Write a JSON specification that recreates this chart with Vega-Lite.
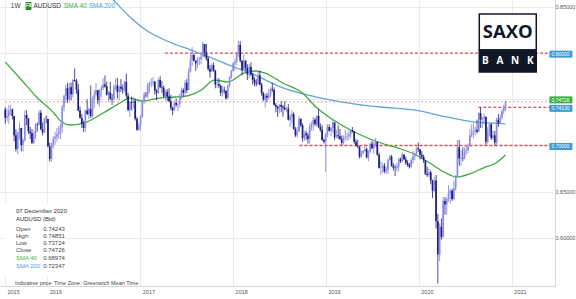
{
"$schema":"https://vega.github.io/schema/vega-lite/v6.json",
"width":555,"height":286,
"autosize":{"type":"none"},
"padding":{"left":0,"top":0,"right":21,"bottom":13},
"background":"white",
"config":{"view":{"stroke":null},"font":"Liberation Sans"},
"data":{"values":[{}]},
"datasets":{
"candles":[
{"d":"2015-07-20","o":0.7390,"h":0.7415,"l":0.7235,"c":0.7300},
{"d":"2015-07-27","o":0.7300,"h":0.7400,"l":0.7260,"c":0.7320},
{"d":"2015-08-03","o":0.7320,"h":0.7440,"l":0.7235,"c":0.7380},
{"d":"2015-08-10","o":0.7380,"h":0.7440,"l":0.7325,"c":0.7390},
{"d":"2015-08-17","o":0.7390,"h":0.7400,"l":0.7283,"c":0.7320},
{"d":"2015-08-24","o":0.7320,"h":0.7320,"l":0.7044,"c":0.7110},
{"d":"2015-08-31","o":0.7110,"h":0.7175,"l":0.6935,"c":0.6962},
{"d":"2015-09-07","o":0.6962,"h":0.7150,"l":0.6907,"c":0.7140},
{"d":"2015-09-14","o":0.7140,"h":0.7250,"l":0.7065,"c":0.7190},
{"d":"2015-09-21","o":0.7190,"h":0.7190,"l":0.6937,"c":0.7005},
{"d":"2015-09-28","o":0.7005,"h":0.7080,"l":0.6935,"c":0.7060},
{"d":"2015-10-05","o":0.7060,"h":0.7382,"l":0.7040,"c":0.7330},
{"d":"2015-10-12","o":0.7330,"h":0.7382,"l":0.7220,"c":0.7290},
{"d":"2015-10-19","o":0.7290,"h":0.7300,"l":0.7120,"c":0.7150},
{"d":"2015-10-26","o":0.7150,"h":0.7200,"l":0.7070,"c":0.7135},
{"d":"2015-11-02","o":0.7135,"h":0.7180,"l":0.7015,"c":0.7030},
{"d":"2015-11-09","o":0.7030,"h":0.7160,"l":0.7016,"c":0.7120},
{"d":"2015-11-16","o":0.7120,"h":0.7240,"l":0.7070,"c":0.7230},
{"d":"2015-11-23","o":0.7230,"h":0.7250,"l":0.7150,"c":0.7225},
{"d":"2015-11-30","o":0.7225,"h":0.7385,"l":0.7215,"c":0.7355},
{"d":"2015-12-07","o":0.7355,"h":0.7385,"l":0.7165,"c":0.7175},
{"d":"2015-12-14","o":0.7175,"h":0.7250,"l":0.7110,"c":0.7140},
{"d":"2015-12-21","o":0.7140,"h":0.7300,"l":0.7140,"c":0.7290},
{"d":"2015-12-28","o":0.7290,"h":0.7325,"l":0.7240,"c":0.7287},
{"d":"2016-01-04","o":0.7287,"h":0.7290,"l":0.6985,"c":0.6990},
{"d":"2016-01-11","o":0.6990,"h":0.7030,"l":0.6827,"c":0.6855},
{"d":"2016-01-18","o":0.6855,"h":0.7030,"l":0.6827,"c":0.7000},
{"d":"2016-01-25","o":0.7000,"h":0.7100,"l":0.6970,"c":0.7075},
{"d":"2016-02-01","o":0.7075,"h":0.7150,"l":0.7010,"c":0.7095},
{"d":"2016-02-08","o":0.7095,"h":0.7190,"l":0.7040,"c":0.7125},
{"d":"2016-02-15","o":0.7125,"h":0.7215,"l":0.7070,"c":0.7150},
{"d":"2016-02-22","o":0.7150,"h":0.7240,"l":0.7070,"c":0.7195},
{"d":"2016-02-29","o":0.7195,"h":0.7440,"l":0.7130,"c":0.7420},
{"d":"2016-03-07","o":0.7420,"h":0.7550,"l":0.7370,"c":0.7540},
{"d":"2016-03-14","o":0.7540,"h":0.7660,"l":0.7475,"c":0.7620},
{"d":"2016-03-21","o":0.7620,"h":0.7680,"l":0.7460,"c":0.7500},
{"d":"2016-03-28","o":0.7500,"h":0.7680,"l":0.7480,"c":0.7630},
{"d":"2016-04-04","o":0.7630,"h":0.7680,"l":0.7490,"c":0.7555},
{"d":"2016-04-11","o":0.7555,"h":0.7720,"l":0.7520,"c":0.7710},
{"d":"2016-04-18","o":0.7710,"h":0.7835,"l":0.7690,"c":0.7700},
{"d":"2016-04-25","o":0.7700,"h":0.7720,"l":0.7560,"c":0.7605},
{"d":"2016-05-02","o":0.7605,"h":0.7670,"l":0.7370,"c":0.7380},
{"d":"2016-05-09","o":0.7380,"h":0.7420,"l":0.7290,"c":0.7300},
{"d":"2016-05-16","o":0.7300,"h":0.7340,"l":0.7190,"c":0.7240},
{"d":"2016-05-23","o":0.7240,"h":0.7270,"l":0.7145,"c":0.7190},
{"d":"2016-05-30","o":0.7190,"h":0.7390,"l":0.7150,"c":0.7380},
{"d":"2016-06-06","o":0.7380,"h":0.7500,"l":0.7330,"c":0.7340},
{"d":"2016-06-13","o":0.7340,"h":0.7410,"l":0.7285,"c":0.7395},
{"d":"2016-06-20","o":0.7395,"h":0.7650,"l":0.7300,"c":0.7320},
{"d":"2016-06-27","o":0.7320,"h":0.7530,"l":0.7300,"c":0.7500},
{"d":"2016-07-04","o":0.7500,"h":0.7600,"l":0.7400,"c":0.7550},
{"d":"2016-07-11","o":0.7550,"h":0.7675,"l":0.7530,"c":0.7600},
{"d":"2016-07-18","o":0.7600,"h":0.7600,"l":0.7445,"c":0.7490},
{"d":"2016-07-25","o":0.7490,"h":0.7610,"l":0.7420,"c":0.7600},
{"d":"2016-08-01","o":0.7600,"h":0.7650,"l":0.7525,"c":0.7620},
{"d":"2016-08-08","o":0.7620,"h":0.7730,"l":0.7600,"c":0.7660},
{"d":"2016-08-15","o":0.7660,"h":0.7758,"l":0.7625,"c":0.7640},
{"d":"2016-08-22","o":0.7640,"h":0.7690,"l":0.7540,"c":0.7550},
{"d":"2016-08-29","o":0.7550,"h":0.7590,"l":0.7470,"c":0.7575},
{"d":"2016-09-05","o":0.7575,"h":0.7690,"l":0.7490,"c":0.7505},
{"d":"2016-09-12","o":0.7505,"h":0.7560,"l":0.7440,"c":0.7500},
{"d":"2016-09-19","o":0.7500,"h":0.7660,"l":0.7490,"c":0.7635},
{"d":"2016-09-26","o":0.7635,"h":0.7730,"l":0.7600,"c":0.7650},
{"d":"2016-10-03","o":0.7650,"h":0.7730,"l":0.7510,"c":0.7580},
{"d":"2016-10-10","o":0.7580,"h":0.7650,"l":0.7490,"c":0.7635},
{"d":"2016-10-17","o":0.7635,"h":0.7720,"l":0.7580,"c":0.7615},
{"d":"2016-10-24","o":0.7615,"h":0.7660,"l":0.7560,"c":0.7605},
{"d":"2016-10-31","o":0.7605,"h":0.7700,"l":0.7580,"c":0.7690},
{"d":"2016-11-07","o":0.7690,"h":0.7780,"l":0.7510,"c":0.7540},
{"d":"2016-11-14","o":0.7540,"h":0.7570,"l":0.7370,"c":0.7385},
{"d":"2016-11-21","o":0.7385,"h":0.7480,"l":0.7310,"c":0.7470},
{"d":"2016-11-28","o":0.7470,"h":0.7530,"l":0.7380,"c":0.7460},
{"d":"2016-12-05","o":0.7460,"h":0.7525,"l":0.7400,"c":0.7485},
{"d":"2016-12-12","o":0.7485,"h":0.7510,"l":0.7270,"c":0.7290},
{"d":"2016-12-19","o":0.7290,"h":0.7310,"l":0.7160,"c":0.7170},
{"d":"2016-12-26","o":0.7170,"h":0.7250,"l":0.7160,"c":0.7215},
{"d":"2017-01-02","o":0.7215,"h":0.7330,"l":0.7160,"c":0.7310},
{"d":"2017-01-09","o":0.7310,"h":0.7490,"l":0.7300,"c":0.7480},
{"d":"2017-01-16","o":0.7480,"h":0.7580,"l":0.7450,"c":0.7550},
{"d":"2017-01-23","o":0.7550,"h":0.7580,"l":0.7520,"c":0.7545},
{"d":"2017-01-30","o":0.7545,"h":0.7680,"l":0.7510,"c":0.7650},
{"d":"2017-02-06","o":0.7650,"h":0.7690,"l":0.7570,"c":0.7675},
{"d":"2017-02-13","o":0.7675,"h":0.7730,"l":0.7630,"c":0.7680},
{"d":"2017-02-20","o":0.7680,"h":0.7740,"l":0.7640,"c":0.7690},
{"d":"2017-02-27","o":0.7690,"h":0.7700,"l":0.7550,"c":0.7595},
{"d":"2017-03-06","o":0.7595,"h":0.7610,"l":0.7490,"c":0.7570},
{"d":"2017-03-13","o":0.7570,"h":0.7730,"l":0.7560,"c":0.7710},
{"d":"2017-03-20","o":0.7710,"h":0.7750,"l":0.7620,"c":0.7630},
{"d":"2017-03-27","o":0.7630,"h":0.7700,"l":0.7570,"c":0.7625},
{"d":"2017-04-03","o":0.7625,"h":0.7650,"l":0.7520,"c":0.7530},
{"d":"2017-04-10","o":0.7530,"h":0.7600,"l":0.7490,"c":0.7580},
{"d":"2017-04-17","o":0.7580,"h":0.7610,"l":0.7480,"c":0.7530},
{"d":"2017-04-24","o":0.7530,"h":0.7620,"l":0.7470,"c":0.7480},
{"d":"2017-05-01","o":0.7480,"h":0.7550,"l":0.7380,"c":0.7410},
{"d":"2017-05-08","o":0.7410,"h":0.7420,"l":0.7328,"c":0.7380},
{"d":"2017-05-15","o":0.7380,"h":0.7480,"l":0.7380,"c":0.7460},
{"d":"2017-05-22","o":0.7460,"h":0.7510,"l":0.7420,"c":0.7440},
{"d":"2017-05-29","o":0.7440,"h":0.7460,"l":0.7370,"c":0.7450},
{"d":"2017-06-05","o":0.7450,"h":0.7560,"l":0.7410,"c":0.7530},
{"d":"2017-06-12","o":0.7530,"h":0.7630,"l":0.7500,"c":0.7600},
{"d":"2017-06-19","o":0.7600,"h":0.7620,"l":0.7530,"c":0.7570},
{"d":"2017-06-26","o":0.7570,"h":0.7710,"l":0.7540,"c":0.7680},
{"d":"2017-07-03","o":0.7680,"h":0.7720,"l":0.7570,"c":0.7600},
{"d":"2017-07-10","o":0.7600,"h":0.7840,"l":0.7600,"c":0.7800},
{"d":"2017-07-17","o":0.7800,"h":0.7990,"l":0.7790,"c":0.7920},
{"d":"2017-07-24","o":0.7920,"h":0.8065,"l":0.7860,"c":0.7980},
{"d":"2017-07-31","o":0.7980,"h":0.8000,"l":0.7910,"c":0.7920},
{"d":"2017-08-07","o":0.7920,"h":0.7920,"l":0.7810,"c":0.7890},
{"d":"2017-08-14","o":0.7890,"h":0.7960,"l":0.7840,"c":0.7930},
{"d":"2017-08-21","o":0.7930,"h":0.7960,"l":0.7870,"c":0.7935},
{"d":"2017-08-28","o":0.7935,"h":0.7990,"l":0.7880,"c":0.7960},
{"d":"2017-09-04","o":0.7960,"h":0.8125,"l":0.7960,"c":0.8100},
{"d":"2017-09-11","o":0.8100,"h":0.8100,"l":0.7960,"c":0.8000},
{"d":"2017-09-18","o":0.8000,"h":0.8100,"l":0.7920,"c":0.7940},
{"d":"2017-09-25","o":0.7940,"h":0.7960,"l":0.7810,"c":0.7830},
{"d":"2017-10-02","o":0.7830,"h":0.7870,"l":0.7735,"c":0.7800},
{"d":"2017-10-09","o":0.7800,"h":0.7890,"l":0.7800,"c":0.7870},
{"d":"2017-10-16","o":0.7870,"h":0.7900,"l":0.7800,"c":0.7810},
{"d":"2017-10-23","o":0.7810,"h":0.7820,"l":0.7620,"c":0.7660},
{"d":"2017-10-30","o":0.7660,"h":0.7730,"l":0.7625,"c":0.7665},
{"d":"2017-11-06","o":0.7665,"h":0.7730,"l":0.7625,"c":0.7650},
{"d":"2017-11-13","o":0.7650,"h":0.7660,"l":0.7535,"c":0.7570},
{"d":"2017-11-20","o":0.7570,"h":0.7640,"l":0.7530,"c":0.7600},
{"d":"2017-11-27","o":0.7600,"h":0.7640,"l":0.7560,"c":0.7590},
{"d":"2017-12-04","o":0.7590,"h":0.7600,"l":0.7500,"c":0.7510},
{"d":"2017-12-11","o":0.7510,"h":0.7660,"l":0.7510,"c":0.7650},
{"d":"2017-12-18","o":0.7650,"h":0.7750,"l":0.7630,"c":0.7740},
{"d":"2017-12-25","o":0.7740,"h":0.7820,"l":0.7720,"c":0.7810},
{"d":"2018-01-01","o":0.7810,"h":0.7900,"l":0.7800,"c":0.7890},
{"d":"2018-01-08","o":0.7890,"h":0.7940,"l":0.7810,"c":0.7910},
{"d":"2018-01-15","o":0.7910,"h":0.8010,"l":0.7870,"c":0.7990},
{"d":"2018-01-22","o":0.7990,"h":0.8136,"l":0.7960,"c":0.8090},
{"d":"2018-01-29","o":0.8090,"h":0.8130,"l":0.7900,"c":0.7920},
{"d":"2018-02-05","o":0.7920,"h":0.7920,"l":0.7760,"c":0.7820},
{"d":"2018-02-12","o":0.7820,"h":0.7990,"l":0.7810,"c":0.7920},
{"d":"2018-02-19","o":0.7920,"h":0.7920,"l":0.7810,"c":0.7840},
{"d":"2018-02-26","o":0.7840,"h":0.7880,"l":0.7710,"c":0.7770},
{"d":"2018-03-05","o":0.7770,"h":0.7880,"l":0.7730,"c":0.7850},
{"d":"2018-03-12","o":0.7850,"h":0.7900,"l":0.7750,"c":0.7770},
{"d":"2018-03-19","o":0.7770,"h":0.7790,"l":0.7660,"c":0.7710},
{"d":"2018-03-26","o":0.7710,"h":0.7740,"l":0.7640,"c":0.7680},
{"d":"2018-04-02","o":0.7680,"h":0.7720,"l":0.7640,"c":0.7670},
{"d":"2018-04-09","o":0.7670,"h":0.7810,"l":0.7650,"c":0.7760},
{"d":"2018-04-16","o":0.7760,"h":0.7810,"l":0.7650,"c":0.7660},
{"d":"2018-04-23","o":0.7660,"h":0.7680,"l":0.7540,"c":0.7570},
{"d":"2018-04-30","o":0.7570,"h":0.7580,"l":0.7480,"c":0.7500},
{"d":"2018-05-07","o":0.7500,"h":0.7560,"l":0.7412,"c":0.7540},
{"d":"2018-05-14","o":0.7540,"h":0.7570,"l":0.7470,"c":0.7520},
{"d":"2018-05-21","o":0.7520,"h":0.7610,"l":0.7500,"c":0.7550},
{"d":"2018-05-28","o":0.7550,"h":0.7630,"l":0.7520,"c":0.7610},
{"d":"2018-06-04","o":0.7610,"h":0.7680,"l":0.7580,"c":0.7600},
{"d":"2018-06-11","o":0.7600,"h":0.7630,"l":0.7430,"c":0.7440},
{"d":"2018-06-18","o":0.7440,"h":0.7460,"l":0.7360,"c":0.7420},
{"d":"2018-06-25","o":0.7420,"h":0.7430,"l":0.7310,"c":0.7400},
{"d":"2018-07-02","o":0.7400,"h":0.7450,"l":0.7350,"c":0.7440},
{"d":"2018-07-09","o":0.7440,"h":0.7480,"l":0.7360,"c":0.7420},
{"d":"2018-07-16","o":0.7420,"h":0.7440,"l":0.7310,"c":0.7410},
{"d":"2018-07-23","o":0.7410,"h":0.7480,"l":0.7380,"c":0.7390},
{"d":"2018-07-30","o":0.7390,"h":0.7420,"l":0.7360,"c":0.7400},
{"d":"2018-08-06","o":0.7400,"h":0.7450,"l":0.7270,"c":0.7280},
{"d":"2018-08-13","o":0.7280,"h":0.7330,"l":0.7200,"c":0.7310},
{"d":"2018-08-20","o":0.7310,"h":0.7380,"l":0.7240,"c":0.7340},
{"d":"2018-08-27","o":0.7340,"h":0.7360,"l":0.7170,"c":0.7180},
{"d":"2018-09-03","o":0.7180,"h":0.7200,"l":0.7090,"c":0.7110},
{"d":"2018-09-10","o":0.7110,"h":0.7200,"l":0.7085,"c":0.7150},
{"d":"2018-09-17","o":0.7150,"h":0.7315,"l":0.7150,"c":0.7290},
{"d":"2018-09-24","o":0.7290,"h":0.7290,"l":0.7200,"c":0.7220},
{"d":"2018-10-01","o":0.7220,"h":0.7240,"l":0.7040,"c":0.7080},
{"d":"2018-10-08","o":0.7080,"h":0.7160,"l":0.7050,"c":0.7130},
{"d":"2018-10-15","o":0.7130,"h":0.7160,"l":0.7060,"c":0.7110},
{"d":"2018-10-22","o":0.7110,"h":0.7140,"l":0.7020,"c":0.7070},
{"d":"2018-10-29","o":0.7070,"h":0.7240,"l":0.7020,"c":0.7200},
{"d":"2018-11-05","o":0.7200,"h":0.7260,"l":0.7160,"c":0.7230},
{"d":"2018-11-12","o":0.7230,"h":0.7310,"l":0.7160,"c":0.7280},
{"d":"2018-11-19","o":0.7280,"h":0.7300,"l":0.7210,"c":0.7230},
{"d":"2018-11-26","o":0.7230,"h":0.7330,"l":0.7210,"c":0.7320},
{"d":"2018-12-03","o":0.7320,"h":0.7390,"l":0.7190,"c":0.7200},
{"d":"2018-12-10","o":0.7200,"h":0.7240,"l":0.7150,"c":0.7170},
{"d":"2018-12-17","o":0.7170,"h":0.7220,"l":0.7050,"c":0.7060},
{"d":"2018-12-24","o":0.7060,"h":0.7080,"l":0.7020,"c":0.7040},
{"d":"2018-12-31","o":0.7040,"h":0.7140,"l":0.6715,"c":0.7120},
{"d":"2019-01-07","o":0.7120,"h":0.7230,"l":0.7090,"c":0.7200},
{"d":"2019-01-14","o":0.7200,"h":0.7230,"l":0.7150,"c":0.7160},
{"d":"2019-01-21","o":0.7160,"h":0.7200,"l":0.7100,"c":0.7190},
{"d":"2019-01-28","o":0.7190,"h":0.7290,"l":0.7140,"c":0.7250},
{"d":"2019-02-04","o":0.7250,"h":0.7250,"l":0.7060,"c":0.7090},
{"d":"2019-02-11","o":0.7090,"h":0.7170,"l":0.7080,"c":0.7110},
{"d":"2019-02-18","o":0.7110,"h":0.7220,"l":0.7070,"c":0.7100},
{"d":"2019-02-25","o":0.7100,"h":0.7180,"l":0.7060,"c":0.7070},
{"d":"2019-03-04","o":0.7070,"h":0.7110,"l":0.7000,"c":0.7030},
{"d":"2019-03-11","o":0.7030,"h":0.7110,"l":0.7010,"c":0.7090},
{"d":"2019-03-18","o":0.7090,"h":0.7170,"l":0.7060,"c":0.7095},
{"d":"2019-03-25","o":0.7095,"h":0.7140,"l":0.7050,"c":0.7100},
{"d":"2019-04-01","o":0.7100,"h":0.7160,"l":0.7060,"c":0.7120},
{"d":"2019-04-08","o":0.7120,"h":0.7170,"l":0.7080,"c":0.7165},
{"d":"2019-04-15","o":0.7165,"h":0.7200,"l":0.7140,"c":0.7150},
{"d":"2019-04-22","o":0.7150,"h":0.7160,"l":0.7020,"c":0.7040},
{"d":"2019-04-29","o":0.7040,"h":0.7070,"l":0.6990,"c":0.7000},
{"d":"2019-05-06","o":0.7000,"h":0.7060,"l":0.6970,"c":0.6990},
{"d":"2019-05-13","o":0.6990,"h":0.6990,"l":0.6860,"c":0.6880},
{"d":"2019-05-20","o":0.6880,"h":0.6950,"l":0.6865,"c":0.6920},
{"d":"2019-05-27","o":0.6920,"h":0.6950,"l":0.6900,"c":0.6940},
{"d":"2019-06-03","o":0.6940,"h":0.7020,"l":0.6930,"c":0.6960},
{"d":"2019-06-10","o":0.6960,"h":0.6980,"l":0.6860,"c":0.6870},
{"d":"2019-06-17","o":0.6870,"h":0.6950,"l":0.6830,"c":0.6930},
{"d":"2019-06-24","o":0.6930,"h":0.7030,"l":0.6920,"c":0.7020},
{"d":"2019-07-01","o":0.7020,"h":0.7050,"l":0.6960,"c":0.6970},
{"d":"2019-07-08","o":0.6970,"h":0.7040,"l":0.6910,"c":0.7020},
{"d":"2019-07-15","o":0.7020,"h":0.7080,"l":0.6990,"c":0.7040},
{"d":"2019-07-22","o":0.7040,"h":0.7040,"l":0.6890,"c":0.6900},
{"d":"2019-07-29","o":0.6900,"h":0.6920,"l":0.6750,"c":0.6760},
{"d":"2019-08-05","o":0.6760,"h":0.6830,"l":0.6680,"c":0.6765},
{"d":"2019-08-12","o":0.6765,"h":0.6810,"l":0.6700,"c":0.6780},
{"d":"2019-08-19","o":0.6780,"h":0.6810,"l":0.6700,"c":0.6720},
{"d":"2019-08-26","o":0.6720,"h":0.6770,"l":0.6690,"c":0.6740},
{"d":"2019-09-02","o":0.6740,"h":0.6860,"l":0.6690,"c":0.6840},
{"d":"2019-09-09","o":0.6840,"h":0.6900,"l":0.6840,"c":0.6880},
{"d":"2019-09-16","o":0.6880,"h":0.6900,"l":0.6770,"c":0.6780},
{"d":"2019-09-23","o":0.6780,"h":0.6810,"l":0.6730,"c":0.6760},
{"d":"2019-09-30","o":0.6760,"h":0.6790,"l":0.6670,"c":0.6755},
{"d":"2019-10-07","o":0.6755,"h":0.6810,"l":0.6720,"c":0.6770},
{"d":"2019-10-14","o":0.6770,"h":0.6870,"l":0.6720,"c":0.6850},
{"d":"2019-10-21","o":0.6850,"h":0.6870,"l":0.6810,"c":0.6830},
{"d":"2019-10-28","o":0.6830,"h":0.6930,"l":0.6820,"c":0.6900},
{"d":"2019-11-04","o":0.6900,"h":0.6910,"l":0.6840,"c":0.6850},
{"d":"2019-11-11","o":0.6850,"h":0.6880,"l":0.6790,"c":0.6810},
{"d":"2019-11-18","o":0.6810,"h":0.6840,"l":0.6770,"c":0.6790},
{"d":"2019-11-25","o":0.6790,"h":0.6810,"l":0.6750,"c":0.6770},
{"d":"2019-12-02","o":0.6770,"h":0.6860,"l":0.6760,"c":0.6840},
{"d":"2019-12-09","o":0.6840,"h":0.6940,"l":0.6800,"c":0.6880},
{"d":"2019-12-16","o":0.6880,"h":0.6920,"l":0.6840,"c":0.6910},
{"d":"2019-12-23","o":0.6910,"h":0.6980,"l":0.6900,"c":0.6970},
{"d":"2019-12-30","o":0.6970,"h":0.7032,"l":0.6930,"c":0.6960},
{"d":"2020-01-06","o":0.6960,"h":0.6960,"l":0.6850,"c":0.6900},
{"d":"2020-01-13","o":0.6900,"h":0.6940,"l":0.6860,"c":0.6880},
{"d":"2020-01-20","o":0.6880,"h":0.6900,"l":0.6810,"c":0.6840},
{"d":"2020-01-27","o":0.6840,"h":0.6840,"l":0.6680,"c":0.6690},
{"d":"2020-02-03","o":0.6690,"h":0.6770,"l":0.6660,"c":0.6680},
{"d":"2020-02-10","o":0.6680,"h":0.6750,"l":0.6660,"c":0.6710},
{"d":"2020-02-17","o":0.6710,"h":0.6730,"l":0.6580,"c":0.6620},
{"d":"2020-02-24","o":0.6620,"h":0.6630,"l":0.6430,"c":0.6510},
{"d":"2020-03-02","o":0.6510,"h":0.6660,"l":0.6500,"c":0.6620},
{"d":"2020-03-09","o":0.6620,"h":0.6680,"l":0.6100,"c":0.6180},
{"d":"2020-03-16","o":0.6180,"h":0.6260,"l":0.5506,"c":0.5820},
{"d":"2020-03-23","o":0.5820,"h":0.6160,"l":0.5750,"c":0.6120},
{"d":"2020-03-30","o":0.6120,"h":0.6210,"l":0.5980,"c":0.6010},
{"d":"2020-04-06","o":0.6010,"h":0.6440,"l":0.6000,"c":0.6400},
{"d":"2020-04-13","o":0.6400,"h":0.6440,"l":0.6250,"c":0.6360},
{"d":"2020-04-20","o":0.6360,"h":0.6440,"l":0.6250,"c":0.6420},
{"d":"2020-04-27","o":0.6420,"h":0.6570,"l":0.6390,"c":0.6480},
{"d":"2020-05-04","o":0.6480,"h":0.6530,"l":0.6370,"c":0.6510},
{"d":"2020-05-11","o":0.6510,"h":0.6530,"l":0.6400,"c":0.6420},
{"d":"2020-05-18","o":0.6420,"h":0.6620,"l":0.6410,"c":0.6540},
{"d":"2020-05-25","o":0.6540,"h":0.6680,"l":0.6510,"c":0.6660},
{"d":"2020-06-01","o":0.6660,"h":0.7060,"l":0.6660,"c":0.6980},
{"d":"2020-06-08","o":0.6980,"h":0.7060,"l":0.6780,"c":0.6860},
{"d":"2020-06-15","o":0.6860,"h":0.6950,"l":0.6780,"c":0.6865},
{"d":"2020-06-22","o":0.6865,"h":0.6980,"l":0.6830,"c":0.6860},
{"d":"2020-06-29","o":0.6860,"h":0.6980,"l":0.6850,"c":0.6940},
{"d":"2020-07-06","o":0.6940,"h":0.7000,"l":0.6900,"c":0.6950},
{"d":"2020-07-13","o":0.6950,"h":0.7020,"l":0.6920,"c":0.6990},
{"d":"2020-07-20","o":0.6990,"h":0.7180,"l":0.6990,"c":0.7110},
{"d":"2020-07-27","o":0.7110,"h":0.7230,"l":0.7090,"c":0.7140},
{"d":"2020-08-03","o":0.7140,"h":0.7240,"l":0.7080,"c":0.7160},
{"d":"2020-08-10","o":0.7160,"h":0.7200,"l":0.7110,"c":0.7170},
{"d":"2020-08-17","o":0.7170,"h":0.7280,"l":0.7130,"c":0.7150},
{"d":"2020-08-24","o":0.7150,"h":0.7360,"l":0.7150,"c":0.7350},
{"d":"2020-08-31","o":0.7350,"h":0.7414,"l":0.7190,"c":0.7280},
{"d":"2020-09-07","o":0.7280,"h":0.7310,"l":0.7190,"c":0.7290},
{"d":"2020-09-14","o":0.7290,"h":0.7345,"l":0.7230,"c":0.7310},
{"d":"2020-09-21","o":0.7310,"h":0.7310,"l":0.7006,"c":0.7040},
{"d":"2020-09-28","o":0.7040,"h":0.7200,"l":0.7020,"c":0.7170},
{"d":"2020-10-05","o":0.7170,"h":0.7240,"l":0.7100,"c":0.7230},
{"d":"2020-10-12","o":0.7230,"h":0.7240,"l":0.7060,"c":0.7080},
{"d":"2020-10-19","o":0.7080,"h":0.7160,"l":0.7060,"c":0.7110},
{"d":"2020-10-26","o":0.7110,"h":0.7160,"l":0.7000,"c":0.7030},
{"d":"2020-11-02","o":0.7030,"h":0.7300,"l":0.6991,"c":0.7280},
{"d":"2020-11-09","o":0.7280,"h":0.7340,"l":0.7200,"c":0.7240},
{"d":"2020-11-16","o":0.7240,"h":0.7340,"l":0.7240,"c":0.7300},
{"d":"2020-11-23","o":0.7300,"h":0.7390,"l":0.7280,"c":0.7370},
{"d":"2020-11-30","o":0.7370,"h":0.7440,"l":0.7340,"c":0.7420},
{"d":"2020-12-07","o":0.74243,"h":0.74851,"l":0.73724,"c":0.74726}
],
"sma40":[
{"d":"2015-07-20","v":0.7904},{"d":"2015-09-22","v":0.7709},{"d":"2015-11-20","v":0.7525},{"d":"2016-01-27","v":0.7352},
{"d":"2016-02-27","v":0.7255},{"d":"2016-04-03","v":0.7222},{"d":"2016-06-04","v":0.7254},{"d":"2016-08-08","v":0.7352},
{"d":"2016-10-13","v":0.7460},{"d":"2016-11-20","v":0.7514},{"d":"2017-01-10","v":0.7482},{"d":"2017-03-16","v":0.7514},
{"d":"2017-05-17","v":0.7525},{"d":"2017-07-02","v":0.7536},{"d":"2017-08-29","v":0.7601},{"d":"2017-10-19","v":0.7709},
{"d":"2017-12-12","v":0.7688},{"d":"2018-02-12","v":0.7785},{"d":"2018-03-29","v":0.7807},{"d":"2018-05-07","v":0.7785},
{"d":"2018-07-15","v":0.7677},{"d":"2018-09-30","v":0.7569},{"d":"2018-11-23","v":0.7417},{"d":"2019-01-24","v":0.7287},
{"d":"2019-03-31","v":0.7179},{"d":"2019-06-05","v":0.7092},{"d":"2019-08-05","v":0.7027},{"d":"2019-10-10","v":0.6973},
{"d":"2019-12-14","v":0.6908},{"d":"2020-02-14","v":0.6810},{"d":"2020-04-09","v":0.6713},{"d":"2020-05-29","v":0.6659},
{"d":"2020-07-18","v":0.6691},{"d":"2020-09-10","v":0.6756},{"d":"2020-10-30","v":0.6810},{"d":"2020-12-07","v":0.68974}
],
"sma200":[
{"d":"2016-08-08","v":0.8684},{"d":"2016-09-17","v":0.8576},{"d":"2016-11-13","v":0.8413},{"d":"2017-01-23","v":0.8251},
{"d":"2017-04-16","v":0.8132},{"d":"2017-07-20","v":0.8034},{"d":"2017-10-08","v":0.7948},{"d":"2018-01-04","v":0.7850},
{"d":"2018-03-10","v":0.7785},{"d":"2018-07-16","v":0.7623},{"d":"2018-11-24","v":0.7525},{"d":"2019-04-01","v":0.7460},
{"d":"2019-08-05","v":0.7417},{"d":"2019-12-14","v":0.7385},{"d":"2020-04-20","v":0.7309},{"d":"2020-08-03","v":0.7255},
{"d":"2020-10-04","v":0.7244},{"d":"2020-12-07","v":0.72347}
],
"levels":[
{"p":0.8,"from":"2017-04-08","to":"2021-05-31"},
{"p":0.7413,"from":"2020-08-22","to":"2021-05-31"},
{"p":0.7,"from":"2018-09-19","to":"2021-05-31"}
],
"bluetags":[{"p":0.8,"t":"0.80000"},{"p":0.7413,"t":"0.74130"},{"p":0.7,"t":"0.70000"}],
"greentags":[{"p":0.74726,"t":"0.74726"}]
},
"layer":[
{"mark":{"type":"rule","color":"#eaa3a3","strokeDash":[2,2],"strokeWidth":1},
 "encoding":{
  "x":{"datum":{"year":2015,"month":7,"date":19,"utc":true},"type":"temporal",
   "scale":{"type":"utc","domain":[{"year":2015,"month":7,"date":19,"utc":true},{"year":2021,"month":5,"date":31,"utc":true}]},
   "axis":{"title":null,"values":[{"year":2015,"month":7,"date":19,"utc":true},{"year":2016,"month":1,"date":1,"utc":true},{"year":2017,"month":1,"date":1,"utc":true},{"year":2018,"month":1,"date":1,"utc":true},{"year":2019,"month":1,"date":1,"utc":true},{"year":2020,"month":1,"date":1,"utc":true},{"year":2021,"month":1,"date":1,"utc":true}],
    "labelExpr":"utcFormat(datum.value,'%Y')","labelAlign":"left","labelBaseline":"middle","labelPadding":5,"labelOffset":2,
    "labelFontSize":5.5,"labelColor":"#555","ticks":false,"domain":true,"domainColor":"#d5d5d5","grid":true,"gridColor":"#ebebeb",
    "labelFlush":false,"labelOverlap":false,"labelBound":false}},
  "x2":{"datum":{"year":2021,"month":5,"date":31,"utc":true}},
  "y":{"datum":0.74726,"type":"quantitative",
   "scale":{"domain":[0.54783,0.85758],"nice":false,"zero":false},
   "axis":{"title":null,"orient":"right","values":[0.6,0.65,0.7,0.75,0.8,0.85],"format":".5f",
    "labelExpr":"indexof(['0.60000','0.65000','0.85000'], datum.label) >= 0 ? datum.label : ''",
    "labelFontSize":5.5,"labelColor":"#555",
    "labelPadding":0,"ticks":false,"domain":true,"domainColor":"#d5d5d5","grid":true,"gridColor":"#ebebeb","labelAlign":"left","labelBaseline":"middle"}}
 }},
{"data":{"name":"levels"},
 "mark":{"type":"rule","color":"#d9534f","strokeDash":[3,2],"strokeWidth":1.4},
 "encoding":{"x":{"field":"from","type":"temporal"},"x2":{"field":"to"},"y":{"field":"p","type":"quantitative"}}},
{"data":{"name":"sma200"},
 "mark":{"type":"line","color":"#5ea8d2","strokeWidth":1.3,"interpolate":"monotone","clip":true},
 "encoding":{"x":{"field":"d","type":"temporal"},"y":{"field":"v","type":"quantitative"}}},
{"data":{"name":"sma40"},
 "mark":{"type":"line","color":"#3fa83f","strokeWidth":1.3,"interpolate":"monotone","clip":true},
 "encoding":{"x":{"field":"d","type":"temporal"},"y":{"field":"v","type":"quantitative"}}},
{"data":{"name":"candles"},
 "mark":{"type":"rule","strokeWidth":0.8},
 "encoding":{"x":{"field":"d","type":"temporal"},"y":{"field":"l","type":"quantitative"},"y2":{"field":"h"},
  "color":{"condition":{"test":"datum.c >= datum.o","value":"#7f7fdc"},"value":"#1c1c80"}}},
{"data":{"name":"candles"},
 "mark":{"type":"bar","width":1.7},
 "encoding":{"x":{"field":"d","type":"temporal"},"y":{"field":"o","type":"quantitative"},"y2":{"field":"c"},
  "color":{"condition":{"test":"datum.c >= datum.o","value":"#8c8ce6"},"value":"#1c1c80"}}},
{"mark":{"type":"rect","color":"white"},
 "encoding":{"x":{"datum":{"year":2015,"month":7,"date":19,"utc":true},"type":"temporal"},"x2":{"datum":{"year":2016,"month":3,"date":19,"utc":true}},
  "y":{"datum":0.63772},"y2":{"datum":0.55865}}},
{"mark":{"type":"text","text":"07 December 2020","align":"left","baseline":"middle","fontSize":6,"color":"#333"},
 "encoding":{"x":{"datum":{"year":2015,"month":8,"date":31,"utc":true},"type":"temporal"},"y":{"datum":0.62905}}},
{"mark":{"type":"text","text":"AUDUSD (Bid)","align":"left","baseline":"middle","fontSize":6,"color":"#333"},
 "encoding":{"x":{"datum":{"year":2015,"month":8,"date":31,"utc":true},"type":"temporal"},"y":{"datum":0.62039}}},
{"mark":{"type":"text","text":["Open","High","Low","Close"],"lineHeight":7.3,"align":"left","baseline":"top","fontSize":6,"color":"#444"},
 "encoding":{"x":{"datum":{"year":2015,"month":8,"date":31,"utc":true},"type":"temporal"},"y":{"datum":0.61335}}},
{"mark":{"type":"text","text":["0.74243","0.74851","0.73724","0.74726"],"lineHeight":7.3,"align":"left","baseline":"top","fontSize":6,"color":"#444"},
 "encoding":{"x":{"datum":{"year":2015,"month":12,"date":16,"utc":true},"type":"temporal"},"y":{"datum":0.61335}}},
{"mark":{"type":"text","text":"SMA 40","align":"left","baseline":"middle","fontSize":6,"color":"#3fb03f"},
 "encoding":{"x":{"datum":{"year":2015,"month":8,"date":31,"utc":true},"type":"temporal"},"y":{"datum":0.57815}}},
{"mark":{"type":"text","text":"0.68974","align":"left","baseline":"middle","fontSize":6,"color":"#444"},
 "encoding":{"x":{"datum":{"year":2015,"month":12,"date":16,"utc":true},"type":"temporal"},"y":{"datum":0.57815}}},
{"mark":{"type":"text","text":"SMA 200","align":"left","baseline":"middle","fontSize":6,"color":"#4aa3da"},
 "encoding":{"x":{"datum":{"year":2015,"month":8,"date":31,"utc":true},"type":"temporal"},"y":{"datum":0.56949}}},
{"mark":{"type":"text","text":"0.72347","align":"left","baseline":"middle","fontSize":6,"color":"#444"},
 "encoding":{"x":{"datum":{"year":2015,"month":12,"date":16,"utc":true},"type":"temporal"},"y":{"datum":0.56949}}},
{"mark":{"type":"text","text":"Indicative price","align":"left","baseline":"middle","fontSize":5.5,"color":"#444"},
 "encoding":{"x":{"datum":{"year":2015,"month":8,"date":27,"utc":true},"type":"temporal"},"y":{"datum":0.55107}}},
{"mark":{"type":"text","text":"Time Zone: Greenwich Mean Time","align":"left","baseline":"middle","fontSize":5.5,"color":"#444"},
 "encoding":{"x":{"datum":{"year":2016,"month":1,"date":28,"utc":true},"type":"temporal"},"y":{"datum":0.55107}}},
{"mark":{"type":"rect","fill":"white","stroke":"#101828","strokeWidth":1.5},
 "encoding":{"x":{"datum":{"year":2020,"month":8,"date":26,"utc":true},"type":"temporal"},"x2":{"datum":{"year":2021,"month":4,"date":7,"utc":true}},
  "y":{"datum":0.84242},"y2":{"datum":0.80343}}},
{"mark":{"type":"rect","fill":"#101828","stroke":"#101828","strokeWidth":1.5},
 "encoding":{"x":{"datum":{"year":2020,"month":8,"date":26,"utc":true},"type":"temporal"},"x2":{"datum":{"year":2021,"month":4,"date":7,"utc":true}},
  "y":{"datum":0.80343},"y2":{"datum":0.7796}}},
{"mark":{"type":"text","text":"SAXO","align":"center","baseline":"middle","fontSize":18.5,"fontWeight":"bold","color":"#101828","font":"Open Sans"},
 "encoding":{"x":{"datum":{"year":2020,"month":12,"date":16,"utc":true},"type":"temporal"},"y":{"datum":0.82292}}},
{"mark":{"type":"text","text":"B\u00a0\u00a0\u00a0A\u00a0\u00a0\u00a0N\u00a0\u00a0\u00a0K","align":"center","baseline":"middle","fontSize":10,"fontWeight":"bold","color":"white","font":"Open Sans"},
 "encoding":{"x":{"datum":{"year":2020,"month":12,"date":16,"utc":true},"type":"temporal"},"y":{"datum":0.79151}}},
{"mark":{"type":"text","text":"1W","align":"left","baseline":"middle","fontSize":6.5,"color":"#444"},
 "encoding":{"x":{"datum":{"year":2015,"month":8,"date":11,"utc":true},"type":"temporal"},"y":{"datum":0.85108}}},
{"mark":{"type":"rect","fill":"#1f8a1f","cornerRadius":1},
 "encoding":{"x":{"datum":{"year":2015,"month":10,"date":8,"utc":true},"type":"temporal"},"x2":{"datum":{"year":2015,"month":10,"date":31,"utc":true}},
  "y":{"datum":0.85541},"y2":{"datum":0.84675}}},
{"mark":{"type":"text","text":"F8","align":"center","baseline":"middle","fontSize":4.5,"color":"white","fontWeight":"bold"},
 "encoding":{"x":{"datum":{"year":2015,"month":10,"date":20,"utc":true},"type":"temporal"},"y":{"datum":0.85108}}},
{"mark":{"type":"text","text":"AUDUSD","align":"left","baseline":"middle","fontSize":6.5,"color":"#333"},
 "encoding":{"x":{"datum":{"year":2015,"month":11,"date":8,"utc":true},"type":"temporal"},"y":{"datum":0.85108}}},
{"mark":{"type":"text","text":"SMA 40","align":"left","baseline":"middle","fontSize":6.5,"color":"#3fb03f"},
 "encoding":{"x":{"datum":{"year":2016,"month":3,"date":7,"utc":true},"type":"temporal"},"y":{"datum":0.85108}}},
{"mark":{"type":"text","text":"SMA 200","align":"left","baseline":"middle","fontSize":6.5,"color":"#4aa3da"},
 "encoding":{"x":{"datum":{"year":2016,"month":6,"date":12,"utc":true},"type":"temporal"},"y":{"datum":0.85108}}},
{"data":{"name":"bluetags"},
 "mark":{"type":"tick","orient":"horizontal","size":23,"thickness":7,"color":"#3d9ad6","opacity":1,"yOffset":1},
 "encoding":{"x":{"datum":{"year":2021,"month":7,"date":13,"utc":true},"type":"temporal"},"y":{"field":"p","type":"quantitative"}}},
{"data":{"name":"greentags"},
 "mark":{"type":"tick","orient":"horizontal","size":23,"thickness":7,"color":"#3cb043","opacity":1,"yOffset":-2},
 "encoding":{"x":{"datum":{"year":2021,"month":7,"date":13,"utc":true},"type":"temporal"},"y":{"field":"p","type":"quantitative"}}},
{"data":{"name":"bluetags"},
 "mark":{"type":"text","align":"left","baseline":"middle","fontSize":5,"color":"white","yOffset":1},
 "encoding":{"x":{"datum":{"year":2021,"month":6,"date":6,"utc":true},"type":"temporal"},"y":{"field":"p","type":"quantitative"},"text":{"field":"t"}}},
{"data":{"name":"greentags"},
 "mark":{"type":"text","align":"left","baseline":"middle","fontSize":5,"color":"white","yOffset":-2},
 "encoding":{"x":{"datum":{"year":2021,"month":6,"date":6,"utc":true},"type":"temporal"},"y":{"field":"p","type":"quantitative"},"text":{"field":"t"}}}
]
}
